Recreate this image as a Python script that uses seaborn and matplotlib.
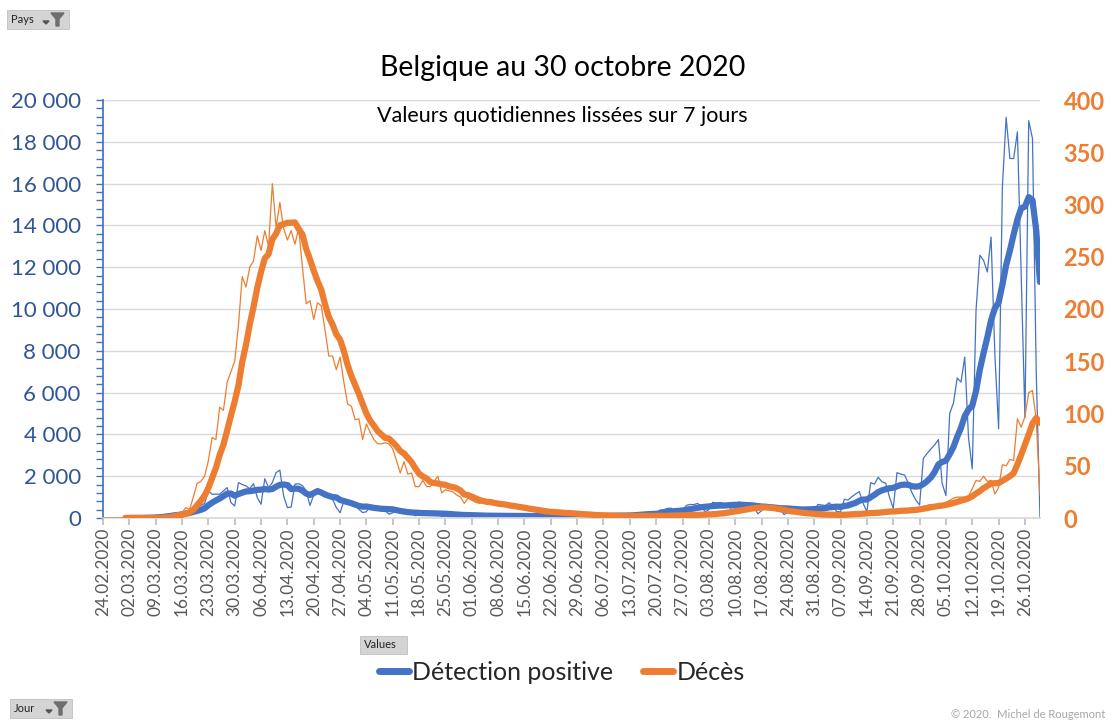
import numpy as np
import pandas as pd
import seaborn as sns
import matplotlib.pyplot as plt
from matplotlib.lines import Line2D
from matplotlib.patches import Polygon, Rectangle
from matplotlib.ticker import FuncFormatter, MultipleLocator

sns.set_theme(style="white")
plt.rcParams['font.family'] = ['Lato', 'DejaVu Sans']

BLUE = '#4472C4'
ORANGE = '#ED7D31'

# daily values, one row per week (Monday .. Sunday), from 24.02.2020 to 30.10.2020
cas = [
    0, 0, 0, 0, 0, 1, 1,
    2, 3, 6, 10, 20, 30, 40,
    50, 96, 120, 160, 200, 220, 180,
    254, 300, 380, 494, 520, 600, 700,
    1295, 1135, 1140, 1135, 1300, 1453, 734,
    575, 1693, 1600, 1535, 1400, 1645, 974,
    657, 1880, 1450, 1700, 2173, 2290, 1055,
    500, 520, 1616, 1640, 1550, 1300, 600,
    1100, 1200, 1150, 1000, 1050, 900, 500,
    250, 815, 800, 650, 600, 420, 260,
    300, 600, 560, 500, 450, 350, 180,
    250, 330, 300, 290, 270, 230, 110,
    150, 300, 280, 250, 230, 200, 80,
    100, 200, 180, 170, 150, 120, 60,
    80, 150, 130, 120, 120, 100, 50,
    70, 130, 120, 110, 100, 90, 45,
    60, 120, 110, 100, 100, 80, 40,
    60, 110, 100, 100, 90, 80, 40,
    60, 120, 110, 100, 110, 90, 45,
    70, 150, 130, 140, 150, 120, 60,
    100, 200, 220, 250, 260, 200, 100,
    170, 380, 400, 460, 470, 330, 180,
    300, 600, 650, 640, 700, 560, 300,
    400, 750, 720, 740, 700, 650, 400,
    450, 770, 700, 650, 650, 550, 200,
    350, 650, 600, 550, 520, 400, 160,
    300, 550, 500, 480, 460, 420, 200,
    350, 650, 620, 600, 730, 550, 300,
    300, 895, 860, 1020, 1150, 1260, 700,
    300, 1690, 1620, 1950, 1730, 1660, 1000,
    460, 2170, 2100, 2060, 1660, 1200, 860,
    620, 2850, 3090, 3300, 3500, 3750, 1660,
    1070, 5000, 5500, 6700, 6500, 7700, 3850,
    2350, 9930, 12570, 12330, 11770, 13440, 7860,
    4270, 15840, 19170, 17200, 17200, 18480, 11600,
    4810, 19010, 18160, 7000, 0,
]

deces = [
    0, 0, 0, 0, 0, 0, 0,
    0, 0, 0, 0, 0, 0, 0,
    0, 1, 1, 2, 3, 4, 5,
    5, 10, 8, 20, 33, 35, 40,
    55, 77, 75, 106, 103, 130, 140,
    150, 185, 231, 221, 240, 246, 270,
    256, 275, 260, 320, 278, 302, 277,
    266, 275, 262, 277, 240, 205, 208,
    190, 206, 203, 180, 155, 155, 142,
    154, 130, 109, 107, 94, 95, 75,
    90, 82, 75, 71, 71, 72, 71,
    66, 55, 43, 54, 42, 43, 30,
    30, 36, 30, 30, 35, 40, 24,
    27, 26, 25, 22, 20, 14, 19,
    17, 15, 14, 15, 14, 13, 13,
    12, 12, 11, 10, 10, 9, 9,
    8, 7, 7, 6, 6, 5, 5,
    5, 6, 5, 4, 4, 4, 3,
    3, 4, 3, 3, 2, 2, 2,
    2, 3, 2, 2, 2, 1, 2,
    2, 2, 3, 2, 2, 2, 1,
    2, 3, 2, 3, 3, 2, 2,
    3, 3, 4, 3, 4, 3, 3,
    4, 5, 5, 6, 6, 7, 7,
    8, 9, 10, 10, 11, 10, 10,
    11, 9, 8, 8, 7, 6, 6,
    5, 5, 5, 4, 4, 3, 4,
    3, 3, 3, 3, 3, 3, 3,
    3, 4, 4, 5, 4, 4, 5,
    5, 6, 5, 6, 7, 6, 8,
    6, 7, 8, 7, 8, 9, 9,
    10, 11, 12, 13, 12, 13, 12,
    15, 17, 19, 20, 20, 20, 21,
    28, 36, 35, 40, 35, 36, 23,
    29, 51, 50, 56, 55, 95, 87,
    97, 120, 122, 94, 22,
]

semaines = ['24.02.2020', '02.03.2020', '09.03.2020', '16.03.2020', '23.03.2020',
            '30.03.2020', '06.04.2020', '13.04.2020', '20.04.2020', '27.04.2020',
            '04.05.2020', '11.05.2020', '18.05.2020', '25.05.2020', '01.06.2020',
            '08.06.2020', '15.06.2020', '22.06.2020', '29.06.2020', '06.07.2020',
            '13.07.2020', '20.07.2020', '27.07.2020', '03.08.2020', '10.08.2020',
            '17.08.2020', '24.08.2020', '31.08.2020', '07.09.2020', '14.09.2020',
            '21.09.2020', '28.09.2020', '05.10.2020', '12.10.2020', '19.10.2020',
            '26.10.2020']

df = pd.DataFrame({"cas": cas, "deces": deces})
df["jour"] = pd.date_range("2020-02-24", periods=len(df), freq="D")
df["j"] = np.arange(len(df))
# moyenne mobile sur 7 jours (comme la courbe de tendance d'Excel)
df["cas_7j"] = df["cas"].rolling(7).mean()
df["deces_7j"] = df["deces"].rolling(7).mean()

W, H = 1114, 728
fig = plt.figure(figsize=(W / 100, H / 100), dpi=100)


def fx(px):
    return px / W


def fy(py):
    return 1 - py / H


ax = fig.add_axes([fx(103), fy(518), fx(1040 - 103), (518 - 100) / H])

sns.lineplot(data=df, x="j", y="cas", ax=ax, color=BLUE, lw=0.9)
sns.lineplot(data=df, x="j", y="cas_7j", ax=ax, color=BLUE, lw=4.5,
             solid_capstyle='round')

ax2 = ax.twinx()
sns.lineplot(data=df, x="j", y="deces", ax=ax2, color=ORANGE, lw=0.9)
sns.lineplot(data=df, x="j", y="deces_7j", ax=ax2, color=ORANGE, lw=4.5,
             solid_capstyle='round')

ax.set_xlim(0, len(df) - 1)
ax.set_ylim(0, 20000)
ax2.set_ylim(0, 400)
for a in (ax, ax2):
    a.set_xlabel('')
    a.set_ylabel('')

ax.set_yticks(np.arange(0, 20001, 2000))
ax.yaxis.set_minor_locator(MultipleLocator(400))
ax.yaxis.set_major_formatter(FuncFormatter(lambda v, p: f"{int(v):,}".replace(",", " ")))
ax.tick_params(axis='y', which='both', direction='out', length=5, width=1,
               color=BLUE, left=True, labelsize=16, labelcolor='#2F5597', pad=11)
ax.grid(axis='y', color='#D9D9D9', lw=1)
ax.grid(axis='x', visible=False)

ax.set_xticks(np.arange(0, len(df), 7))
ax.set_xticklabels(semaines, rotation=90)
ax.tick_params(axis='x', direction='out', length=5, color='#BFBFBF', bottom=True,
               labelsize=12.5, labelcolor='#595959', pad=2)

ax2.set_yticks(np.arange(0, 401, 50))
ax2.tick_params(axis='y', length=0, labelsize=17, labelcolor=ORANGE, pad=17)
for lab in ax2.get_yticklabels():
    lab.set_fontweight('bold')

for a in (ax, ax2):
    a.spines['top'].set_visible(False)
    a.spines['right'].set_visible(False)
ax2.spines['left'].set_visible(False)
ax2.spines['bottom'].set_visible(False)
ax.spines['left'].set_color(BLUE)
ax.spines['bottom'].set_color('#D9D9D9')

fig.text(fx(563), fy(68), "Belgique au 30 octobre 2020", ha='center', va='center',
         fontsize=20.5, color='black')
fig.text(fx(562), fy(116), "Valeurs quotidiennes lissées sur 7 jours", ha='center',
         va='center', fontsize=15.5, color='black')

handles = [Line2D([], [], color=BLUE, lw=5, solid_capstyle='round'),
           Line2D([], [], color=ORANGE, lw=5, solid_capstyle='round')]
fig.legend(handles, ["Détection positive", "Décès"], loc='center',
           bbox_to_anchor=(fx(562), fy(672)), ncol=2, frameon=False, fontsize=18,
           handlelength=1.2, handletextpad=0.15, columnspacing=1.2)

fig.text(fx(1105), fy(714), "© 2020.  Michel de Rougemont", ha='right', va='center',
         fontsize=8, color='#A6A6A6')


def bouton(x0, y0, w, h, label, filtre=True):
    fig.patches.append(Rectangle((fx(x0), fy(y0 + h)), fx(w), h / H, transform=fig.transFigure,
                                 facecolor='#D4D4D4', edgecolor='#C0C0C0', lw=0.6))
    fig.text(fx(x0 + 4), fy(y0 + h / 2), label, ha='left', va='center', fontsize=8,
             color='#222222')
    if filtre:
        xa = x0 + w - 26
        fig.patches.append(Polygon([(fx(xa), fy(y0 + 11)), (fx(xa + 6), fy(y0 + 11)),
                                    (fx(xa + 3), fy(y0 + 14))], closed=True,
                                   transform=fig.transFigure, color='#555555'))
        xf = x0 + w - 18
        fig.patches.append(Polygon([(fx(xf), fy(y0 + 3)), (fx(xf + 13), fy(y0 + 3)),
                                    (fx(xf + 8), fy(y0 + 9)), (fx(xf + 8), fy(y0 + 16)),
                                    (fx(xf + 5), fy(y0 + 16)), (fx(xf + 5), fy(y0 + 9))],
                                   closed=True, transform=fig.transFigure, color='#6E6E6E'))


bouton(7, 10, 62, 19, "Pays")
bouton(10, 699, 62, 19, "Jour")
bouton(360, 636, 47, 18, "Values", filtre=False)

fig.savefig("out.png", dpi=100, facecolor='white')
